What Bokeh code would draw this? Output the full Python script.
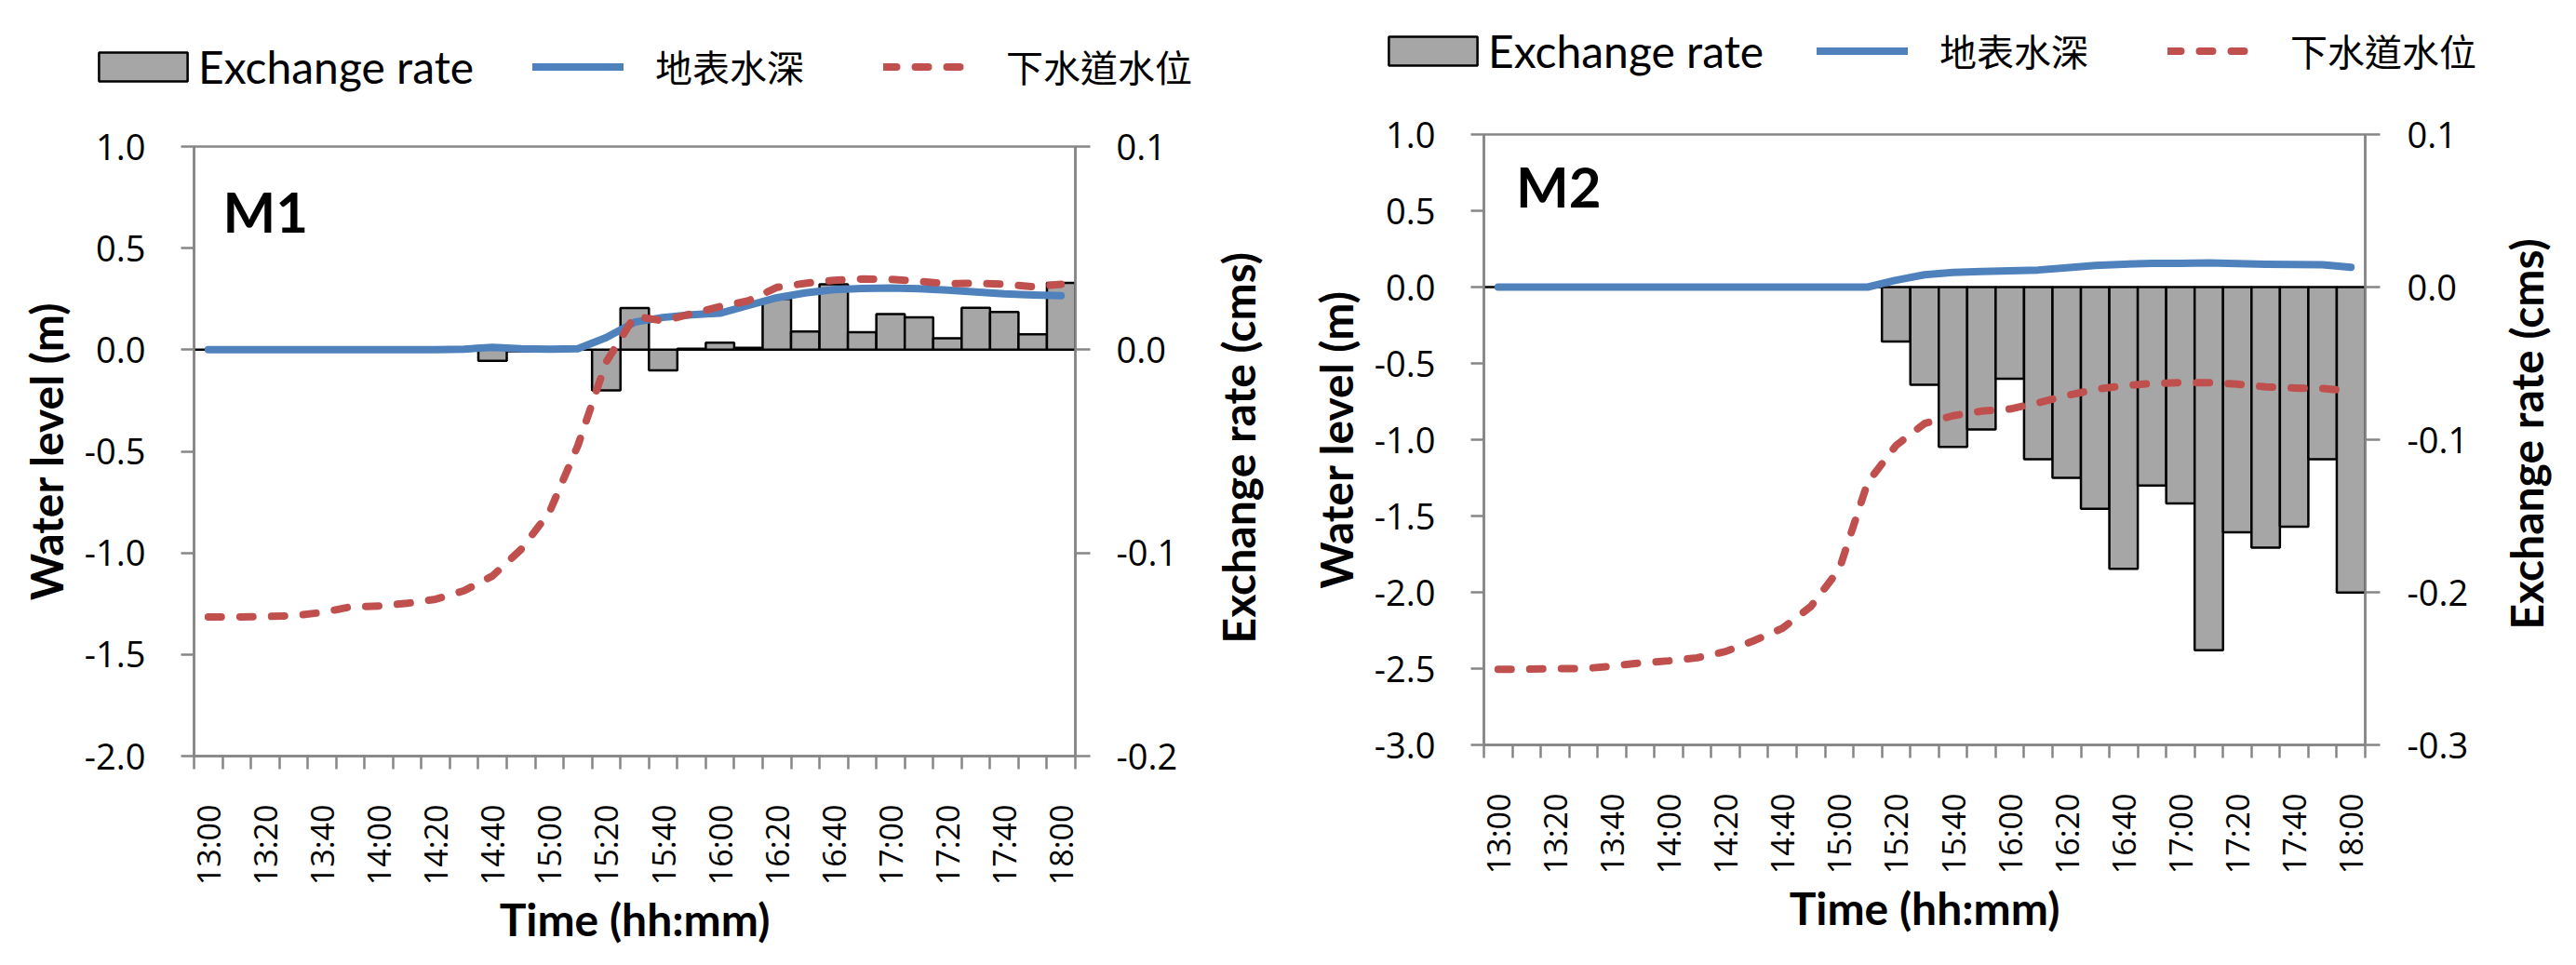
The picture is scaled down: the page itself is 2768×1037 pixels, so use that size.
import math
from bokeh.plotting import figure
from bokeh.models import (Range1d, LinearAxis, FixedTicker, NumeralTickFormatter,
                          Legend, LegendItem, Label)
from bokeh.layouts import row, column
from bokeh.embed import file_html
from bokeh.resources import INLINE

# ---------------- data ----------------
times = ["13:00", "13:10", "13:20", "13:30", "13:40", "13:50",
         "14:00", "14:10", "14:20", "14:30", "14:40", "14:50",
         "15:00", "15:10", "15:20", "15:30", "15:40", "15:50",
         "16:00", "16:10", "16:20", "16:30", "16:40", "16:50",
         "17:00", "17:10", "17:20", "17:30", "17:40", "17:50", "18:00"]

m1_exchange = [0, 0, 0, 0, 0, 0, 0, 0, 0, 0,
               -0.0055, -0.0008, 0.0, 0.0, -0.0200, 0.0205, -0.0102, 0.0005,
               0.0035, 0.0010, 0.0250, 0.0090, 0.0322, 0.0086, 0.0176, 0.0159,
               0.0057, 0.0206, 0.0186, 0.0076, 0.0329]
m1_surface = [0, 0, 0, 0, 0, 0, 0, 0, 0, 0.003,
              0.012, 0.005, 0.003, 0.005, 0.06, 0.136, 0.159, 0.172,
              0.180, 0.218, 0.256, 0.280, 0.296, 0.302, 0.304, 0.300,
              0.293, 0.284, 0.275, 0.270, 0.266]
m1_sewer = [-1.315, -1.315, -1.313, -1.309, -1.293, -1.266, -1.261, -1.248,
            -1.228, -1.186, -1.113, -0.983, -0.800, -0.472, -0.060, 0.165,
            0.142, 0.177, 0.212, 0.241, 0.307, 0.327, 0.342, 0.348, 0.347,
            0.337, 0.325, 0.328, 0.322, 0.310, 0.322]

m2_exchange = [0, 0, 0, 0, 0, 0, 0, 0, 0, 0, 0, 0, 0, 0,
               -0.0356, -0.0640, -0.1047, -0.0933, -0.0600, -0.1128, -0.1250,
               -0.1453, -0.1846, -0.1300, -0.1417, -0.2380, -0.1606, -0.1707,
               -0.1570, -0.1128, -0.2002]
m2_surface = [0, 0, 0, 0, 0, 0, 0, 0, 0, 0, 0, 0, 0, 0,
              0.045, 0.081, 0.096, 0.102, 0.106, 0.112, 0.126, 0.142, 0.150,
              0.156, 0.156, 0.159, 0.154, 0.150, 0.148, 0.146, 0.130]
m2_sewer = [-2.504, -2.504, -2.500, -2.500, -2.484, -2.463, -2.449, -2.429,
            -2.388, -2.317, -2.236, -2.093, -1.849, -1.280, -1.037, -0.894,
            -0.843, -0.813, -0.799, -0.758, -0.711, -0.671, -0.646, -0.632,
            -0.626, -0.626, -0.636, -0.654, -0.661, -0.665, -0.681]

m1_level_ticks = [1.0, 0.5, 0.0, -0.5, -1.0, -1.5, -2.0]
m1_rate_ticks = [0.1, 0.0, -0.1, -0.2]
m2_level_ticks = [1.0, 0.5, 0.0, -0.5, -1.0, -1.5, -2.0, -2.5, -3.0]
m2_rate_ticks = [0.1, 0.0, -0.1, -0.2, -0.3]

idx = list(range(len(times)))

BLUE = "#4F81BD"
RED = "#C0504D"
BAR = "#A6A6A6"
AXIS = "#868686"
TICK_FONT = "Open Sans"
TITLE_FONT = "Lato"
TITLE_SIZE = "48px"
LEG_H = 116

BAR_STYLE = dict(fill_color=BAR, line_color="black", line_width=2.5)
SURF_STYLE = dict(line_color=BLUE, line_width=8, line_cap="round", line_join="round")
SEWER_STYLE = dict(line_color=RED, line_width=8, line_dash="14 20",
                   line_cap="round", line_join="round")


def blank_fig(fw, fh, x_range, y_range, **borders):
    f = figure(frame_width=fw, frame_height=fh, x_range=x_range, y_range=y_range,
               x_axis_type=None, y_axis_type=None,
               output_backend="svg", toolbar_location=None, title_location=None,
               frame_align=False, **borders)
    f.xgrid.visible = False
    f.ygrid.visible = False
    f.outline_line_color = None
    f.background_fill_color = "white"
    f.border_fill_color = "white"
    return f


def style_axis(ax):
    ax.axis_line_color = AXIS
    ax.axis_line_width = 2.5
    ax.major_tick_line_color = AXIS
    ax.major_tick_line_width = 2.5
    ax.minor_tick_line_color = AXIS
    ax.minor_tick_line_width = 2.5
    ax.major_tick_in = 0
    ax.minor_tick_in = 0
    ax.major_label_text_font = TICK_FONT
    ax.major_label_text_font_size = "38px"
    ax.major_label_text_color = "black"
    ax.axis_label_text_font = TITLE_FONT
    ax.axis_label_text_font_style = "bold"
    ax.axis_label_text_font_size = TITLE_SIZE
    ax.axis_label_text_color = "black"


def panel(tag, surface, sewer, exchange, ymin, secmin, level_ticks, rate_ticks,
          borders, frame_h, tag_xy, rate_standoff):
    bl, br, bt, bb = borders
    p = figure(frame_width=947, frame_height=frame_h,
               x_range=Range1d(-0.5, len(times) - 0.5),
               y_range=Range1d(ymin, 1.0),
               output_backend="svg", toolbar_location=None, title_location=None,
               frame_align=False,
               min_border_left=bl, min_border_right=br,
               min_border_top=bt, min_border_bottom=bb)
    p.extra_y_ranges = {"sec": Range1d(secmin, 0.1)}
    p.xgrid.visible = False
    p.ygrid.visible = False
    p.outline_line_color = AXIS
    p.outline_line_width = 2.5
    p.background_fill_color = "white"
    p.border_fill_color = "white"

    p.vbar(x=idx, top=exchange, bottom=0, width=1.0, y_range_name="sec", **BAR_STYLE)
    p.line(idx, surface, **SURF_STYLE)
    p.line(idx, sewer, **SEWER_STYLE)

    # bottom (category) axis: ticks between categories, labels every 20 min
    xa = p.xaxis[0]
    style_axis(xa)
    label_pos = idx[::2]
    xa.ticker = FixedTicker(ticks=label_pos,
                            minor_ticks=[i - 0.5 for i in range(len(times) + 1)])
    xa.major_label_overrides = {i: times[i] for i in label_pos}
    xa.major_tick_out = 0
    xa.minor_tick_out = 14
    xa.major_label_standoff = 38
    xa.major_label_orientation = math.pi / 2
    xa.major_label_text_font_size = "34px"
    xa.axis_label = "Time (hh:mm)"
    xa.axis_label_standoff = 5

    # left axis
    ya = p.yaxis[0]
    style_axis(ya)
    ya.ticker = FixedTicker(ticks=level_ticks, minor_ticks=[])
    ya.formatter = NumeralTickFormatter(format="0.0")
    ya.major_tick_out = 14
    ya.minor_tick_out = 0
    ya.major_label_standoff = 38
    ya.axis_label = "Water level (m)"
    ya.axis_label_standoff = 10

    # right axis (its title is drawn beside it so that it reads bottom-to-top)
    ra = LinearAxis(y_range_name="sec")
    style_axis(ra)
    ra.ticker = FixedTicker(ticks=rate_ticks, minor_ticks=[])
    ra.formatter = NumeralTickFormatter(format="0.0")
    ra.major_tick_out = 16
    ra.minor_tick_out = 0
    ra.major_label_standoff = rate_standoff
    p.add_layout(ra, "right")

    p.add_layout(Label(x=tag_xy[0], y=tag_xy[1], text=tag,
                       text_font=TITLE_FONT, text_font_style="bold",
                       text_font_size="60px", text_baseline="alphabetic",
                       text_color="black"))
    return p


def legend_fig(width, exchange, surface, sewer, ax, bx, vy):
    f = blank_fig(width, LEG_H, Range1d(0, width), Range1d(0, LEG_H), min_border=0)
    # hidden copies of the series: they only lend their styles to the legend
    r_bar = f.vbar(x=idx, top=exchange, width=1.0, visible=False, **BAR_STYLE)
    r_s = f.line(x=idx, y=surface, visible=False, **SURF_STYLE)
    r_w = f.line(x=idx, y=sewer, visible=False, **SEWER_STYLE)
    common = dict(orientation="horizontal", label_height=64,
                  label_text_color="black", padding=0, margin=0,
                  border_line_alpha=0, background_fill_alpha=0,
                  inactive_fill_alpha=0)
    legend_a = Legend(items=[LegendItem(label="Exchange rate", renderers=[r_bar])],
                      location=(ax, vy), glyph_width=119, glyph_height=39,
                      label_standoff=0,
                      label_text_font=TITLE_FONT, label_text_font_size="48px",
                      spacing=0, **common)
    legend_b = Legend(items=[LegendItem(label="地表水深", renderers=[r_s]),
                             LegendItem(label="下水道水位", renderers=[r_w])],
                      location=(bx, vy), glyph_width=98, glyph_height=31,
                      label_standoff=34,
                      label_text_font="Noto Sans CJK TC", label_text_font_size="40px",
                      spacing=85, **common)
    f.add_layout(legend_a)
    f.add_layout(legend_b)
    return f


def rate_title(width, x0, bt, bb, frame_h, ymin, x_center, y_center):
    t = blank_fig(width, frame_h, Range1d(x0, x0 + width), Range1d(ymin, 1.0),
                  min_border_left=0, min_border_right=0,
                  min_border_top=bt, min_border_bottom=bb)
    t.add_layout(Label(x=x_center, y=y_center, text="Exchange rate (cms)",
                       angle=math.pi / 2, text_align="center", text_baseline="middle",
                       text_font=TITLE_FONT, text_font_style="bold",
                       text_font_size=TITLE_SIZE, text_color="black"))
    return t


leg1 = legend_fig(1380, m1_exchange, m1_surface, m1_sewer, 94, 572, 13)
p1 = panel("M1", m1_surface, m1_sewer, m1_exchange, -2.0, -0.2,
           m1_level_ticks, m1_rate_ticks,
           (208, 137, 41, 210), 655, (0.515, 0.683), 28)
t1 = rate_title(88, 1300, 41, 210, 655, -2.0, 1337.5, -0.483)

leg2 = legend_fig(1372, m2_exchange, m2_surface, m2_sewer, 100, 572, 30)
p2 = panel("M2", m2_surface, m2_sewer, m2_exchange, -3.0, -0.3,
           m2_level_ticks, m2_rate_ticks,
           (214, 131, 28, 222), 656, (0.63, 0.66), 29)
t2 = rate_title(80, 2680, 28, 222, 656, -3.0, 2721.5, -0.963)

layout = row(column(leg1, row(p1, t1)), column(leg2, row(p2, t2)))
open("out.html", "w").write(file_html(layout, INLINE))
